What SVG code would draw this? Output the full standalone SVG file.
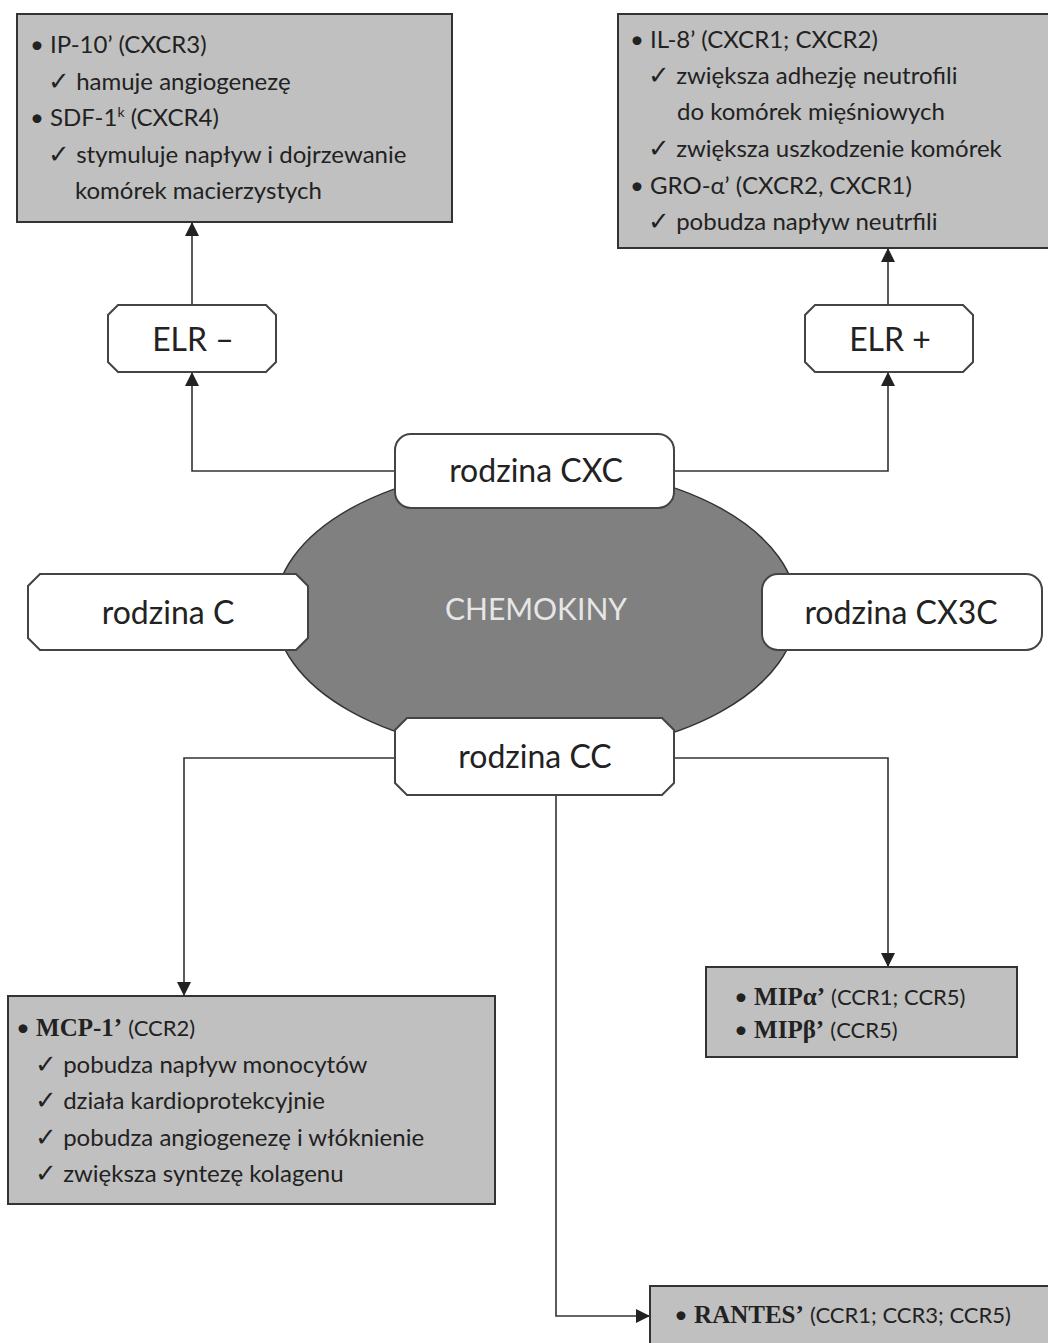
<svg xmlns="http://www.w3.org/2000/svg" width="1048" height="1343" viewBox="0 0 1048 1343">
<defs>
<marker id="ah" markerWidth="14" markerHeight="14" refX="13" refY="7" orient="auto" markerUnits="userSpaceOnUse">
<path d="M0,0 L14,7 L0,14 Z" fill="#222"/>
</marker>
<style>
.box{fill:#c0c0c0;stroke:#333;stroke-width:2}
.wb{fill:#fff;stroke:#444;stroke-width:2}
.t{font-family:Lato,"Liberation Sans",sans-serif;font-size:24px;fill:#222}
.big{font-family:Lato,"Liberation Sans",sans-serif;font-size:32px;fill:#222;text-anchor:middle}
.b{font-family:"Liberation Serif",serif;font-weight:bold;font-size:25px}
.s{font-size:22px}
.ck{font-size:26px}
.ln{fill:none;stroke:#333;stroke-width:1.6}
</style>
</defs>
<rect width="1048" height="1343" fill="#fff"/>

<g id="chemokiny">
<ellipse cx="536" cy="610" rx="261" ry="144" fill="#808080" stroke="#333" stroke-width="1.5"/>
<text x="536" y="620" class="big" style="fill:#e6e6e6;font-size:30px">CHEMOKINY</text>
</g>

<g id="connectors">
<path class="ln" d="M395,471 H192 V373" marker-end="url(#ah)"/>
<path class="ln" d="M192,305 V223" marker-end="url(#ah)"/>
<path class="ln" d="M674,471 H888 V373" marker-end="url(#ah)"/>
<path class="ln" d="M888,305 V249" marker-end="url(#ah)"/>
<path class="ln" d="M395,758 H184 V995" marker-end="url(#ah)"/>
<path class="ln" d="M674,758 H888 V966" marker-end="url(#ah)"/>
<path class="ln" d="M556,795 V1316 H649" marker-end="url(#ah)"/>
</g>

<g id="box-elr-minus-info">
<rect class="box" x="17" y="14" width="435" height="208"/>
<text class="t" x="30" y="53">•  IP-10’ (CXCR3)</text>
<text class="t" x="48" y="90"><tspan class="ck">✓</tspan> hamuje angiogenezę</text>
<text class="t" x="30" y="126">•  SDF-1<tspan font-size="14" dy="-9">k</tspan><tspan dy="9"> (CXCR4)</tspan></text>
<text class="t" x="48" y="163"><tspan class="ck">✓</tspan> stymuluje napływ i dojrzewanie</text>
<text class="t" x="75" y="199">komórek macierzystych</text>
</g>

<g id="box-elr-plus-info">
<rect class="box" x="618" y="14" width="440" height="234"/>
<text class="t" x="630" y="48">•  IL-8’ (CXCR1; CXCR2)</text>
<text class="t" x="648" y="84"><tspan class="ck">✓</tspan> zwiększa adhezję neutrofili</text>
<text class="t" x="677" y="120">do komórek mięśniowych</text>
<text class="t" x="648" y="157"><tspan class="ck">✓</tspan> zwiększa uszkodzenie komórek</text>
<text class="t" x="630" y="194">•  GRO-α’ (CXCR2, CXCR1)</text>
<text class="t" x="648" y="230"><tspan class="ck">✓</tspan> pobudza napływ neutrfili</text>
</g>

<g id="elr-minus">
<path class="wb" d="M118,305 H266 L276,315 V362 L266,372 H118 L108,362 V315 Z"/>
<text class="big" x="193" y="351">ELR –</text>
</g>

<g id="elr-plus">
<path class="wb" d="M815,305 H963 L973,315 V362 L963,372 H815 L805,362 V315 Z"/>
<text class="big" x="890" y="351">ELR +</text>
</g>

<g id="rodzina-cxc">
<rect class="wb" x="395" y="434" width="279" height="74" rx="16"/>
<text class="big" x="536" y="482">rodzina CXC</text>
</g>

<g id="rodzina-c">
<path class="wb" d="M40,574 H296 L308,586 V638 L296,650 H40 L28,638 V586 Z"/>
<text class="big" x="168" y="624">rodzina C</text>
</g>

<g id="rodzina-cx3c">
<rect class="wb" x="762" y="574" width="280" height="76" rx="16"/>
<text class="big" x="901" y="624">rodzina CX3C</text>
</g>

<g id="rodzina-cc">
<path class="wb" d="M407,718 H662 L674,730 V783 L662,795 H407 L395,783 V730 Z"/>
<text class="big" x="535" y="768">rodzina CC</text>
</g>

<g id="box-mcp">
<rect class="box" x="8" y="996" width="487" height="208"/>
<text class="t" x="16" y="1036">•  <tspan class="b">MCP-1’</tspan> <tspan class="s">(CCR2)</tspan></text>
<text class="t" x="35" y="1073"><tspan class="ck">✓</tspan> pobudza napływ monocytów</text>
<text class="t" x="35" y="1109"><tspan class="ck">✓</tspan> działa kardioprotekcyjnie</text>
<text class="t" x="35" y="1146"><tspan class="ck">✓</tspan> pobudza angiogenezę i włóknienie</text>
<text class="t" x="35" y="1182"><tspan class="ck">✓</tspan> zwiększa syntezę kolagenu</text>
</g>

<g id="box-mip">
<rect class="box" x="706" y="967" width="311" height="90"/>
<text class="t" x="734" y="1005">•  <tspan class="b">MIPα’</tspan> <tspan class="s">(CCR1; CCR5)</tspan></text>
<text class="t" x="734" y="1038">•  <tspan class="b">MIPβ’</tspan> <tspan class="s">(CCR5)</tspan></text>
</g>

<g id="box-rantes">
<rect class="box" x="650" y="1286" width="410" height="70"/>
<text class="t" x="674" y="1323">•  <tspan class="b">RANTES’</tspan> <tspan class="s">(CCR1; CCR3; CCR5)</tspan></text>
</g>
</svg>
